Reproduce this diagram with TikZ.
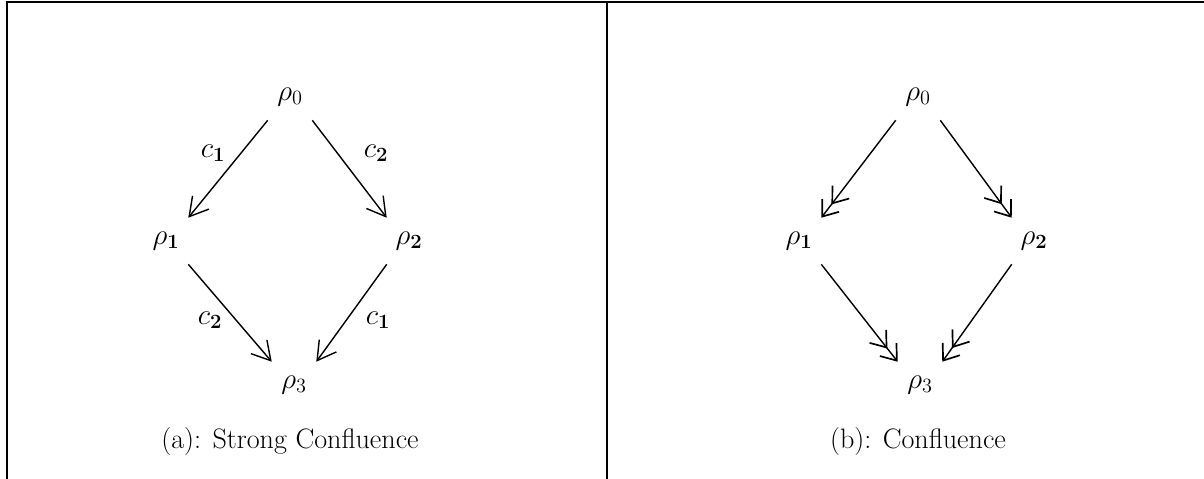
\documentclass[tikz,border=0pt]{standalone}
\usetikzlibrary{arrows.meta}
\begin{document}
\begin{tikzpicture}[x=0.025cm,y=-0.025cm,
    every node/.style={font=\fontsize{20}{24}\selectfont},
    state/.style={minimum width=1.1cm,minimum height=1.15cm,inner sep=0pt},
    step1/.style={line width=1pt,-{Straight Barb[length=13pt,width=15pt,line width=1pt]}},
    step2/.style={line width=1pt,-{Straight Barb[length=10pt,width=15pt,line width=1.2pt,sep=0.3pt]Straight Barb[length=10pt,width=15pt,line width=1.2pt]}},
    frame/.style={line width=1.6pt}]
  \useasboundingbox (0,0) rectangle (1204,479);
  % frame
  \draw[frame] (1204,1.8) -- (7,1.8) -- (7,479);
  \draw[frame] (607,1.8) -- (607,479);
  % (a) strong confluence
  \node[state] (a0) at (290,97) {$\rho_0$};
  \node[state] (a1) at (166,241) {$\rho_{\mathbf{1}}$};
  \node[state] (a2) at (409,241) {$\rho_{\mathbf{2}}$};
  \node[state] (a3) at (294,385) {$\rho_3$};
  \draw[step1] (a0.south west) -- (a1.north east);
  \draw[step1] (a0.south east) -- (a2.north west);
  \draw[step1] (a1.south east) -- (a3.north west);
  \draw[step1] (a2.south west) -- (a3.north east);
  \node (la1) at (213,153) {$c_{\mathbf{1}}$};
  \node (la2) at (376,153) {$c_{\mathbf{2}}$};
  \node (la3) at (210,320) {$c_{\mathbf{2}}$};
  \node (la4) at (378,320) {$c_{\mathbf{1}}$};
  \node (capa) at (290,441) {(a): Strong Confluence};
  % (b) confluence
  \node[state] (b0) at (918,97) {$\rho_0$};
  \node[state] (b1) at (799,241) {$\rho_{\mathbf{1}}$};
  \node[state] (b2) at (1034,241) {$\rho_{\mathbf{2}}$};
  \node[state] (b3) at (920,385) {$\rho_3$};
  \draw[step2] (b0.south west) -- (b1.north east);
  \draw[step2] (b0.south east) -- (b2.north west);
  \draw[step2] (b1.south east) -- (b3.north west);
  \draw[step2] (b2.south west) -- (b3.north east);
  \node (capb) at (918,441) {(b): Confluence};
\end{tikzpicture}
\end{document}
